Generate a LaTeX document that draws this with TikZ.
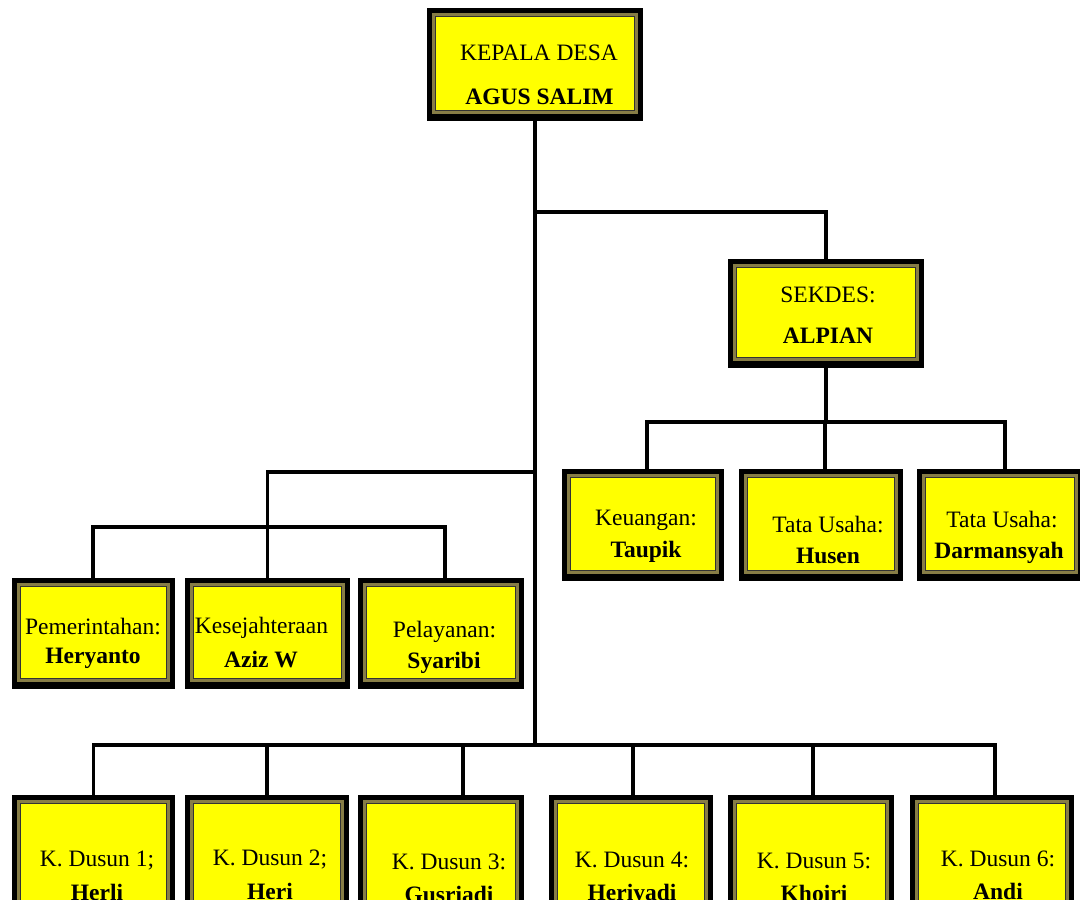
\documentclass[tikz,border=0pt]{standalone}
\usepackage{fontspec}
\setmainfont{Liberation Serif}
\definecolor{boxyellow}{RGB}{255,255,0}
\definecolor{band}{RGB}{135,125,70}
\tikzset{
  orgbox/.style={rectangle, fill=black, inner sep=0pt, outer sep=0pt,
    path picture={
      \fill[band] ([xshift=5pt,yshift=7pt]path picture bounding box.south west) rectangle ([xshift=-5pt,yshift=-5pt]path picture bounding box.north east);
      \filldraw[fill=boxyellow, draw=black!80, line width=0.8pt] ([xshift=8.5pt,yshift=10.5pt]path picture bounding box.south west) rectangle ([xshift=-8.5pt,yshift=-8.5pt]path picture bounding box.north east);
    }},
  lbl/.style={anchor=base, inner sep=0pt, font=\fontsize{23.5}{28}\selectfont},
  boldlbl/.style={anchor=base, inner sep=0pt, font=\fontsize{23.5}{28}\selectfont\bfseries},
  conn/.style={line width=3.2pt, line cap=rect}
}
\begin{document}
\begin{tikzpicture}[x=1pt,y=-1pt]
\useasboundingbox (0,0) rectangle (1080,900);
\clip (0,0) rectangle (1080,900);
\fill[white] (0,0) rectangle (1080,900);

% named bus coordinates
\coordinate (jS) at (0,212);
\coordinate (jL) at (0,472);
\coordinate (lbus) at (0,527);
\coordinate (rbus) at (0,422);
\coordinate (dbus) at (0,745);

% boxes
\node[orgbox, minimum width=216pt, minimum height=113pt] (top) at (535,64.5) {};
\node[orgbox, minimum width=196pt, minimum height=109pt] (sek) at (826,313.5) {};
\node[orgbox, minimum width=162pt, minimum height=112pt] (keu) at (643,525) {};
\node[orgbox, minimum width=164pt, minimum height=112pt] (hus) at (821,525) {};
\node[orgbox, minimum width=166pt, minimum height=112pt] (dar) at (1000,525) {};
\node[orgbox, minimum width=163pt, minimum height=111pt] (pem) at (93.5,633.5) {};
\node[orgbox, minimum width=165pt, minimum height=111pt] (kes) at (267.5,633.5) {};
\node[orgbox, minimum width=166pt, minimum height=111pt] (pel) at (441,633.5) {};
\node[orgbox, minimum width=163pt, minimum height=130pt] (d1) at (93.5,860) {};
\node[orgbox, minimum width=164pt, minimum height=130pt] (d2) at (267,860) {};
\node[orgbox, minimum width=166pt, minimum height=130pt] (d3) at (441,860) {};
\node[orgbox, minimum width=164pt, minimum height=130pt] (d4) at (631,860) {};
\node[orgbox, minimum width=166pt, minimum height=130pt] (d5) at (811,860) {};
\node[orgbox, minimum width=164pt, minimum height=130pt] (d6) at (992,860) {};

% connectors
\draw[conn] (top.south) -- (top.south |- dbus);
\draw[conn] (top.south |- jS) -| (sek.north);
\draw[conn] (top.south |- jL) -| (kes.north);
\draw[conn] ([xshift=-0.5pt]pem.north) -- ([xshift=-0.5pt]pem.north |- lbus) -- ([xshift=4pt]pel.north |- lbus) -- ([xshift=4pt]pel.north);
\draw[conn] (sek.south) -- (sek.south |- rbus);
\draw[conn] ([xshift=4pt]keu.north) -- ([xshift=4pt]keu.north |- rbus) -- ([xshift=5pt]dar.north |- rbus) -- ([xshift=5pt]dar.north);
\draw[conn] ([xshift=4pt]hus.north) -- ([xshift=4pt]hus.north |- rbus);
\draw[conn] (d1.north) -- (d1.north |- dbus) -- ([xshift=3pt]d6.north |- dbus) -- ([xshift=3pt]d6.north);
\draw[conn] (d2.north) -- (d2.north |- dbus);
\draw[conn] ([xshift=22pt]d3.north) -- ([xshift=22pt]d3.north |- dbus);
\draw[conn] ([xshift=2pt]d4.north) -- ([xshift=2pt]d4.north |- dbus);
\draw[conn] ([xshift=2pt]d5.north) -- ([xshift=2pt]d5.north |- dbus);

% labels
\node[lbl] (topa) at (539,60) {KEPALA DESA};
\node[boldlbl] (topb) at (539.5,104) {AGUS SALIM};
\node[lbl] (seka) at (828,302) {SEKDES:};
\node[boldlbl] (sekb) at (828,343) {ALPIAN};
\node[lbl] (keua) at (646,525) {Keuangan:};
\node[boldlbl] (keub) at (646,557) {Taupik};
\node[lbl] (husa) at (828,532) {Tata Usaha:};
\node[boldlbl] (husb) at (828,563) {Husen};
\node[lbl] (dara) at (1002,527) {Tata Usaha:};
\node[boldlbl] (darb) at (999,558) {Darmansyah};
\node[lbl] (pema) at (93,634) {Pemerintahan:};
\node[boldlbl] (pemb) at (93,663) {Heryanto};
\node[lbl] (kesa) at (261.5,633) {Kesejahteraan};
\node[boldlbl] (kesb) at (261,667) {Aziz W};
\node[lbl] (pela) at (444.5,637) {Pelayanan:};
\node[boldlbl] (pelb) at (444,668) {Syaribi};
\node[lbl] (d1a) at (97,866) {K. Dusun 1;};
\node[boldlbl] (d1b) at (97,900) {Herli};
\node[lbl] (d2a) at (270,865) {K. Dusun 2;};
\node[boldlbl] (d2b) at (270,899) {Heri};
\node[lbl] (d3a) at (449,869) {K. Dusun 3:};
\node[boldlbl] (d3b) at (449,902) {Gusriadi};
\node[lbl] (d4a) at (632,867) {K. Dusun 4:};
\node[boldlbl] (d4b) at (632,900) {Heriyadi};
\node[lbl] (d5a) at (814,868) {K. Dusun 5:};
\node[boldlbl] (d5b) at (814,901) {Khoiri};
\node[lbl] (d6a) at (998,866) {K. Dusun 6:};
\node[boldlbl] (d6b) at (998,899) {Andi};
\end{tikzpicture}
\end{document}
